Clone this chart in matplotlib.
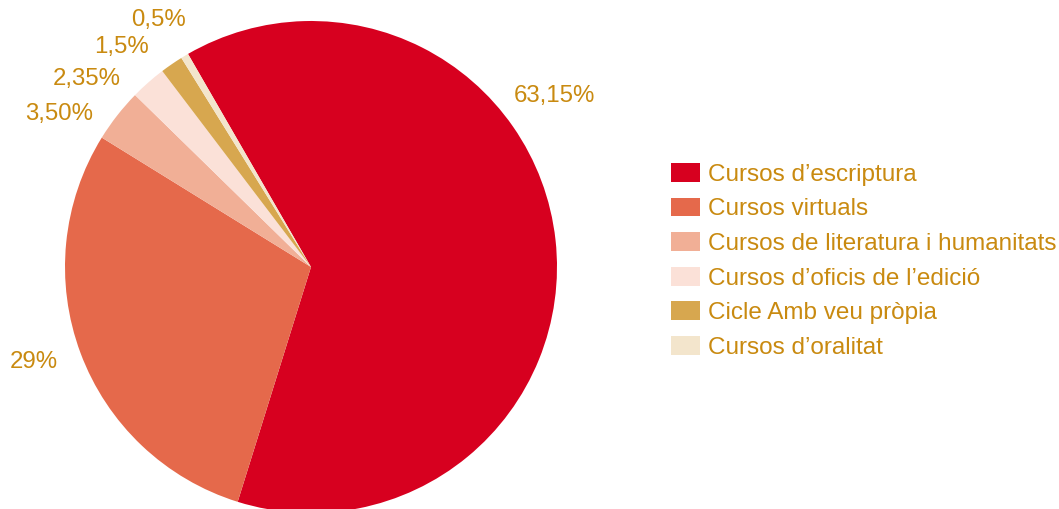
import matplotlib

matplotlib.use("Agg")
import matplotlib.pyplot as plt
import numpy as np
from matplotlib.patches import Patch

categories = [
    "Cursos d’escriptura",
    "Cursos virtuals",
    "Cursos de literatura i humanitats",
    "Cursos d’oficis de l’edició",
    "Cicle Amb veu pròpia",
    "Cursos d’oralitat",
]
shares = [63.15, 29, 3.50, 2.35, 1.5, 0.5]
share_labels = ["63,15%", "29%", "3,50%", "2,35%", "1,5%", "0,5%"]
colors = ["#D7001F", "#E5694B", "#F1AF96", "#FBE1D8", "#D7A74F", "#F3E5CC"]

# where each percentage label sits (degrees, radius in pie units)
label_angle = [35, 199, 148.7, 140, 130.8, 121.7]
label_radius = [1.21, 1.19, 1.20, 1.19, 1.18, 1.18]

TEXT = "#C98A10"
FS = 17.5
plt.rcParams["font.family"] = ["Liberation Sans", "DejaVu Sans"]

W, H = 1059, 509
fig = plt.figure(figsize=(W / 100, H / 100), dpi=100)
cx, cy, r = 311, 267, 246
ax = fig.add_axes([(cx - r) / W, (H - cy - r) / H, 2 * r / W, 2 * r / H])
ax.pie(shares, colors=colors, startangle=120, counterclock=False, radius=1,
       wedgeprops={"linewidth": 0})
ax.set_xlim(-1, 1)
ax.set_ylim(-1, 1)
ax.set_aspect("equal")
ax.axis("off")

for txt, a, rr in zip(share_labels, label_angle, label_radius):
    t = np.deg2rad(a)
    ax.text(rr * np.cos(t), rr * np.sin(t), txt, ha="center", va="center",
            fontsize=17.3, color=TEXT, clip_on=False)

handles = [Patch(facecolor=c, edgecolor="none") for c in colors]
leg = fig.legend(handles, categories, loc="upper left",
                 bbox_to_anchor=(671 / W, 1 - 163 / H), frameon=False,
                 fontsize=FS, handlelength=1.2, handleheight=0.82,
                 handletextpad=0.33, labelspacing=0.48, borderpad=0,
                 borderaxespad=0)
for t in leg.get_texts():
    t.set_color(TEXT)

fig.savefig("out.png", dpi=100)
